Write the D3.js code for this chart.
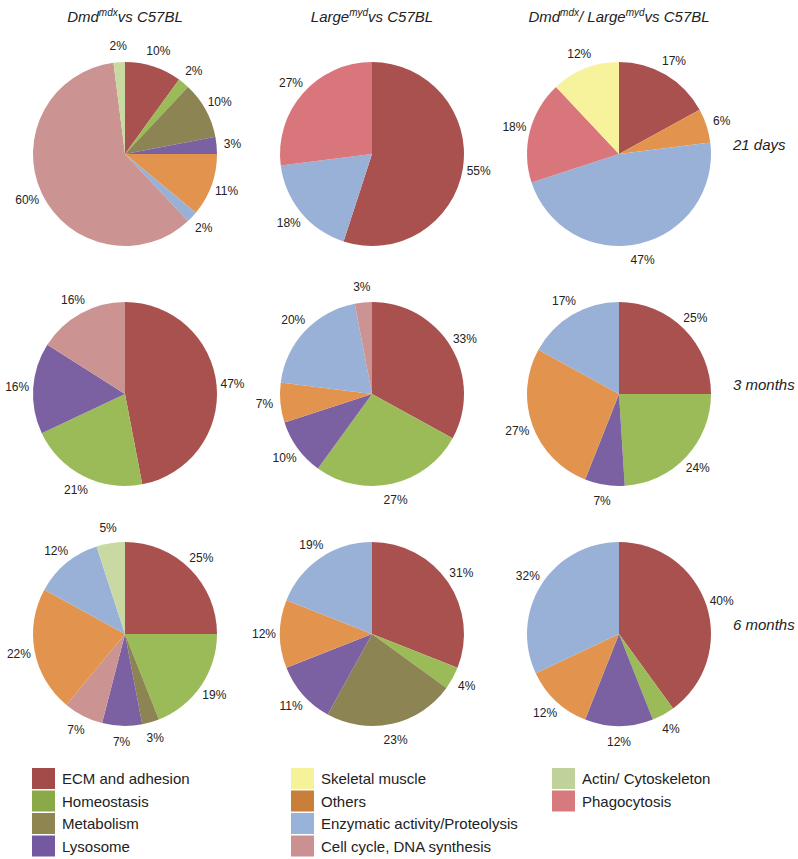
<!DOCTYPE html>
<html>
<head>
<meta charset="utf-8">
<script src="https://cdn.jsdelivr.net/npm/d3@7"></script>
<style>
  body { margin: 0; background: #fff; }
  text { font-family: "Liberation Sans", Arial, sans-serif; }
</style>
</head>
<body>
<svg id="chart" width="798" height="859"></svg>
<script>
// categories, in legend order
const categories = [
  "ECM and adhesion", "Homeostasis", "Metabolism", "Lysosome",
  "Skeletal muscle", "Others", "Enzymatic activity/Proteolysis", "Cell cycle, DNA synthesis",
  "Actin/ Cytoskeleton", "Phagocytosis"
];
const colors = [
  "#a9514e", "#9bbb59", "#8c8452", "#7b61a1",
  "#f7f29c", "#e2944f", "#9ab1d7", "#cb9391",
  "#c8d9a2", "#d9767b"
];
// the legend swatch for "Others" is a darker orange than the slices
const legendColors = [
  "#a24b48", "#8aaa4a", "#8e8551", "#7459a0",
  "#f6f29a", "#c97f3a", "#98b2d9", "#c99192",
  "#bfd29c", "#d67a7e"
];

const columnTitles = [
  [["Dmd", false], ["mdx", true], ["vs C57BL", false]],
  [["Large", false], ["myd", true], ["vs C57BL", false]],
  [["Dmd", false], ["mdx", true], ["/ Large", false], ["myd", true], ["vs C57BL", false]]
];
const rowLabels = ["21 days", "3 months", "6 months"];

// each pie: slices clockwise from 12 o'clock, [category, percent]
const dmd21 = [["ECM and adhesion", 10], ["Homeostasis", 2], ["Metabolism", 10], ["Lysosome", 3],
  ["Others", 11], ["Enzymatic activity/Proteolysis", 2], ["Cell cycle, DNA synthesis", 60], ["Actin/ Cytoskeleton", 2]];
const large21 = [["ECM and adhesion", 55], ["Enzymatic activity/Proteolysis", 18], ["Phagocytosis", 27]];
const double21 = [["ECM and adhesion", 17], ["Others", 6], ["Enzymatic activity/Proteolysis", 47],
  ["Phagocytosis", 18], ["Skeletal muscle", 12]];
const dmd3m = [["ECM and adhesion", 47], ["Homeostasis", 21], ["Lysosome", 16], ["Cell cycle, DNA synthesis", 16]];
const large3m = [["ECM and adhesion", 33], ["Homeostasis", 27], ["Lysosome", 10], ["Others", 7],
  ["Enzymatic activity/Proteolysis", 20], ["Cell cycle, DNA synthesis", 3]];
const double3m = [["ECM and adhesion", 25], ["Homeostasis", 24], ["Lysosome", 7], ["Others", 27],
  ["Enzymatic activity/Proteolysis", 17]];
const dmd6m = [["ECM and adhesion", 25], ["Homeostasis", 19], ["Metabolism", 3], ["Lysosome", 7],
  ["Cell cycle, DNA synthesis", 7], ["Others", 22], ["Enzymatic activity/Proteolysis", 12], ["Actin/ Cytoskeleton", 5]];
const large6m = [["ECM and adhesion", 31], ["Homeostasis", 4], ["Metabolism", 23], ["Lysosome", 11],
  ["Others", 12], ["Enzymatic activity/Proteolysis", 19]];
const double6m = [["ECM and adhesion", 40], ["Homeostasis", 4], ["Lysosome", 12], ["Others", 12],
  ["Enzymatic activity/Proteolysis", 32]];

const pies = [
  [dmd21, large21, double21],
  [dmd3m, large3m, double3m],
  [dmd6m, large6m, double6m]
];

const svg = d3.select("#chart");
const color = d3.scaleOrdinal().domain(categories).range(colors);
const legendColor = d3.scaleOrdinal().domain(categories).range(legendColors);

const colX = d3.scalePoint().domain([0, 1, 2]).range([125, 619]);
const rowY = d3.scalePoint().domain([0, 1, 2]).range([154, 634]);
const radius = 92;

const pie = d3.pie().sort(null).value(d => d[1]);
const arc = d3.arc().innerRadius(0).outerRadius(radius);
const labelArc = d3.arc().innerRadius(radius + 16).outerRadius(radius + 16);

// column titles
columnTitles.forEach((parts, i) => {
  const t = svg.append("text")
    .attr("x", colX(i))
    .attr("y", 22)
    .attr("text-anchor", "middle")
    .attr("font-style", "italic")
    .attr("font-size", 15)
    .attr("fill", "#222");
  let sup = false;
  parts.forEach(([s, isSup]) => {
    const ts = t.append("tspan").text(s);
    if (isSup && !sup) ts.attr("dy", -6).attr("font-size", 10);
    if (!isSup && sup) ts.attr("dy", 6);
    sup = isSup;
  });
});

// row labels
rowLabels.forEach((s, i) => {
  svg.append("text")
    .attr("x", 733)
    .attr("y", rowY(i) - 4)
    .attr("font-style", "italic")
    .attr("font-size", 15)
    .attr("fill", "#222")
    .text(s);
});

// pies
pies.forEach((row, ri) => {
  row.forEach((data, ci) => {
    const g = svg.append("g")
      .attr("transform", "translate(" + colX(ci) + "," + rowY(ri) + ")");
    const arcs = pie(data);
    g.selectAll("path")
      .data(arcs)
      .enter()
      .append("path")
      .attr("d", arc)
      .attr("fill", d => color(d.data[0]));
    g.selectAll("text")
      .data(arcs)
      .enter()
      .append("text")
      .attr("transform", d => "translate(" + labelArc.centroid(d) + ")")
      .attr("text-anchor", "middle")
      .attr("dy", "0.35em")
      .attr("font-size", 12)
      .attr("fill", "#222")
      .text(d => d.data[1] + "%");
  });
});

// legend
const legCol = d3.scaleOrdinal().domain([0, 1, 2]).range([32, 291, 552]);
const legRow = d3.scaleLinear().domain([0, 1]).range([768, 790.5]);
categories.forEach((c, i) => {
  const col = i < 4 ? 0 : i < 8 ? 1 : 2;
  const r = i < 4 ? i : i < 8 ? i - 4 : i - 8;
  const g = svg.append("g")
    .attr("transform", "translate(" + legCol(col) + "," + legRow(r) + ")");
  g.append("rect")
    .attr("width", 23)
    .attr("height", 21)
    .attr("fill", legendColor(c));
  g.append("text")
    .attr("x", 30)
    .attr("y", 11)
    .attr("dy", "0.35em")
    .attr("font-size", 15)
    .attr("fill", "#222")
    .text(c);
});
</script>
</body>
</html>
